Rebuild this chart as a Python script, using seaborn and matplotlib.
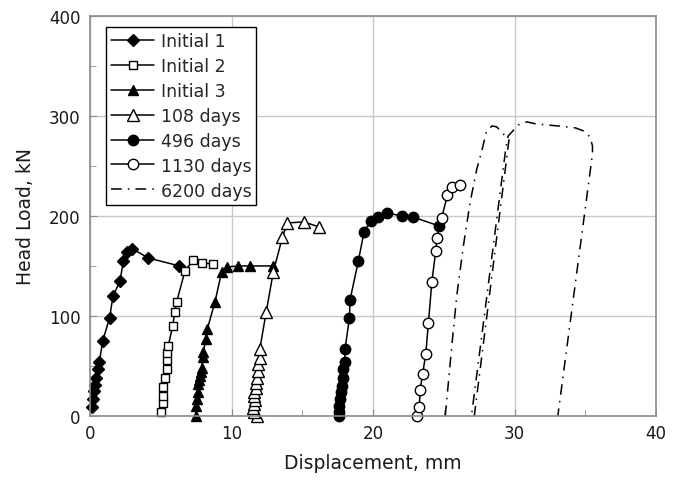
import numpy as np
import pandas as pd
import seaborn as sns
import matplotlib.pyplot as plt

# ---- data (displacement mm, head load kN) ----
init1_x = [0.12, 0.19, 0.28, 0.35, 0.42, 0.59, 0.66, 0.9, 1.38, 1.63, 2.12, 2.36, 2.6, 3.0, 4.12, 6.31]
init1_y = [9, 17, 25, 31, 38, 47, 54, 75, 98, 120, 135, 155, 164, 167, 158, 150]

init2_x = [5.0, 5.13, 5.13, 5.13, 5.3, 5.42, 5.46, 5.42, 5.53, 5.84, 6.0, 6.12, 6.71, 7.3, 7.89, 8.67]
init2_y = [4, 13, 20, 29, 38, 47, 56, 63, 70, 90, 104, 114, 145, 156, 153, 152]

init3_x = [7.49, 7.5, 7.54, 7.6, 7.65, 7.72, 7.77, 7.84, 7.89, 7.96, 8.0, 8.2, 8.29, 8.83, 9.3, 9.66, 10.48, 11.3, 12.9]
init3_y = [0, 10, 17, 24, 32, 36, 40, 44, 48, 59, 64, 77, 87, 114, 144, 149, 150, 150, 150]

d108_x = [11.78, 11.62, 11.55, 11.6, 11.65, 11.6, 11.62, 11.7, 11.75, 11.8, 11.85, 11.9, 12.0, 12.0, 12.45, 12.95, 13.6, 13.95, 15.1, 16.2]
d108_y = [0, 4, 8, 12, 16, 20, 24, 28, 33, 38, 45, 52, 58, 67, 104, 144, 179, 193, 194, 189]

d496_x = [17.6, 17.6, 17.62, 17.65, 17.7, 17.78, 17.85, 17.9, 18.0, 18.02, 18.33, 18.37, 18.96, 19.36, 19.83, 20.37, 20.97, 22.02, 22.8, 24.66]
d496_y = [0, 4, 10, 17, 24, 30, 38, 47, 54, 67, 98, 116, 155, 184, 195, 199, 203, 200, 199, 190]

d1130_x = [23.13, 23.27, 23.32, 23.5, 23.72, 23.91, 24.15, 24.43, 24.5, 24.85, 25.25, 25.56, 26.15]
d1130_y = [0, 9, 26, 42, 62, 93, 134, 165, 178, 198, 221, 229, 231]

d6200_x = [25.1, 25.56, 25.91, 26.38, 26.86, 27.33, 27.68, 28.0, 28.4, 28.74, 29.2, 29.6, 27.15,
           26.95, 29.4, 29.55, 30.27, 30.86, 31.5, 32.27, 33.7, 34.3, 34.86, 35.33, 35.5, 35.5, 33.05]
d6200_y = [0, 70, 120, 170, 214, 247, 265, 284, 290, 289, 282, 276, 0,
           0, 270, 280, 291, 294, 292, 291, 289, 288, 285, 279, 270, 262, 0]

# ---- figure ----
sns.set_style("white")
plt.rcParams["font.family"] = ["DejaVu Sans"]

fig = plt.figure(figsize=(6.73, 4.81), dpi=100)
ax = fig.add_axes([0.1337, 0.133, 0.8413, 0.832])

common = dict(ax=ax, sort=False, estimator=None, color="black", lw=1.1, clip_on=False)

sns.lineplot(x=init1_x, y=init1_y, marker="D", markersize=6, markerfacecolor="black",
             markeredgecolor="black", markeredgewidth=1, label="Initial 1", **common)
sns.lineplot(x=init2_x, y=init2_y, marker="s", markersize=6, markerfacecolor="white",
             markeredgecolor="black", markeredgewidth=1, label="Initial 2", **common)
sns.lineplot(x=init3_x, y=init3_y, marker="^", markersize=7.5, markerfacecolor="black",
             markeredgecolor="black", markeredgewidth=1, label="Initial 3", **common)
sns.lineplot(x=d108_x, y=d108_y, marker="^", markersize=8.5, markerfacecolor="white",
             markeredgecolor="black", markeredgewidth=1, label="108 days", **common)
sns.lineplot(x=d496_x, y=d496_y, marker="o", markersize=7.5, markerfacecolor="black",
             markeredgecolor="black", markeredgewidth=1, label="496 days", **common)
sns.lineplot(x=d1130_x, y=d1130_y, marker="o", markersize=7.5, markerfacecolor="white",
             markeredgecolor="black", markeredgewidth=1, label="1130 days", **common)
sns.lineplot(x=d6200_x, y=d6200_y, linestyle=(0, (7, 4, 1, 4)), label="6200 days", **common)

ax.set_xlim(0, 40)
ax.set_ylim(0, 400)
ax.set_xticks([0, 10, 20, 30, 40])
ax.set_yticks([0, 100, 200, 300, 400])
ax.set_xticks(np.arange(5, 40, 10), minor=True)
ax.set_yticks(np.arange(50, 400, 100), minor=True)
ax.grid(True, which="major", color="#c8c8c8", lw=1)
ax.set_axisbelow(True)
for s in ax.spines.values():
    s.set_color("#8c8c8c")
    s.set_linewidth(1.2)
ax.tick_params(which="both", direction="in", colors="#8c8c8c", labelcolor="#1a1a1a",
               labelsize=12, bottom=True, left=True)
ax.tick_params(axis="x", which="major", length=5, pad=6)
ax.tick_params(axis="y", which="major", length=5, pad=7)
ax.tick_params(which="minor", length=4)

ax.set_xlabel("Displacement, mm", fontsize=13.5, labelpad=8, color="#1a1a1a")
ax.set_ylabel("Head Load, kN", fontsize=13.5, labelpad=10, color="#1a1a1a")

leg = ax.legend(loc="upper left", bbox_to_anchor=(0.028, 0.973), borderaxespad=0,
                fontsize=12.5, frameon=True, fancybox=False, framealpha=1,
                edgecolor="black", handlelength=2.5, handletextpad=0.35,
                labelspacing=0.4, borderpad=0.3)
leg.get_frame().set_linewidth(1)

plt.savefig("out.png", dpi=100)
plt.close()
